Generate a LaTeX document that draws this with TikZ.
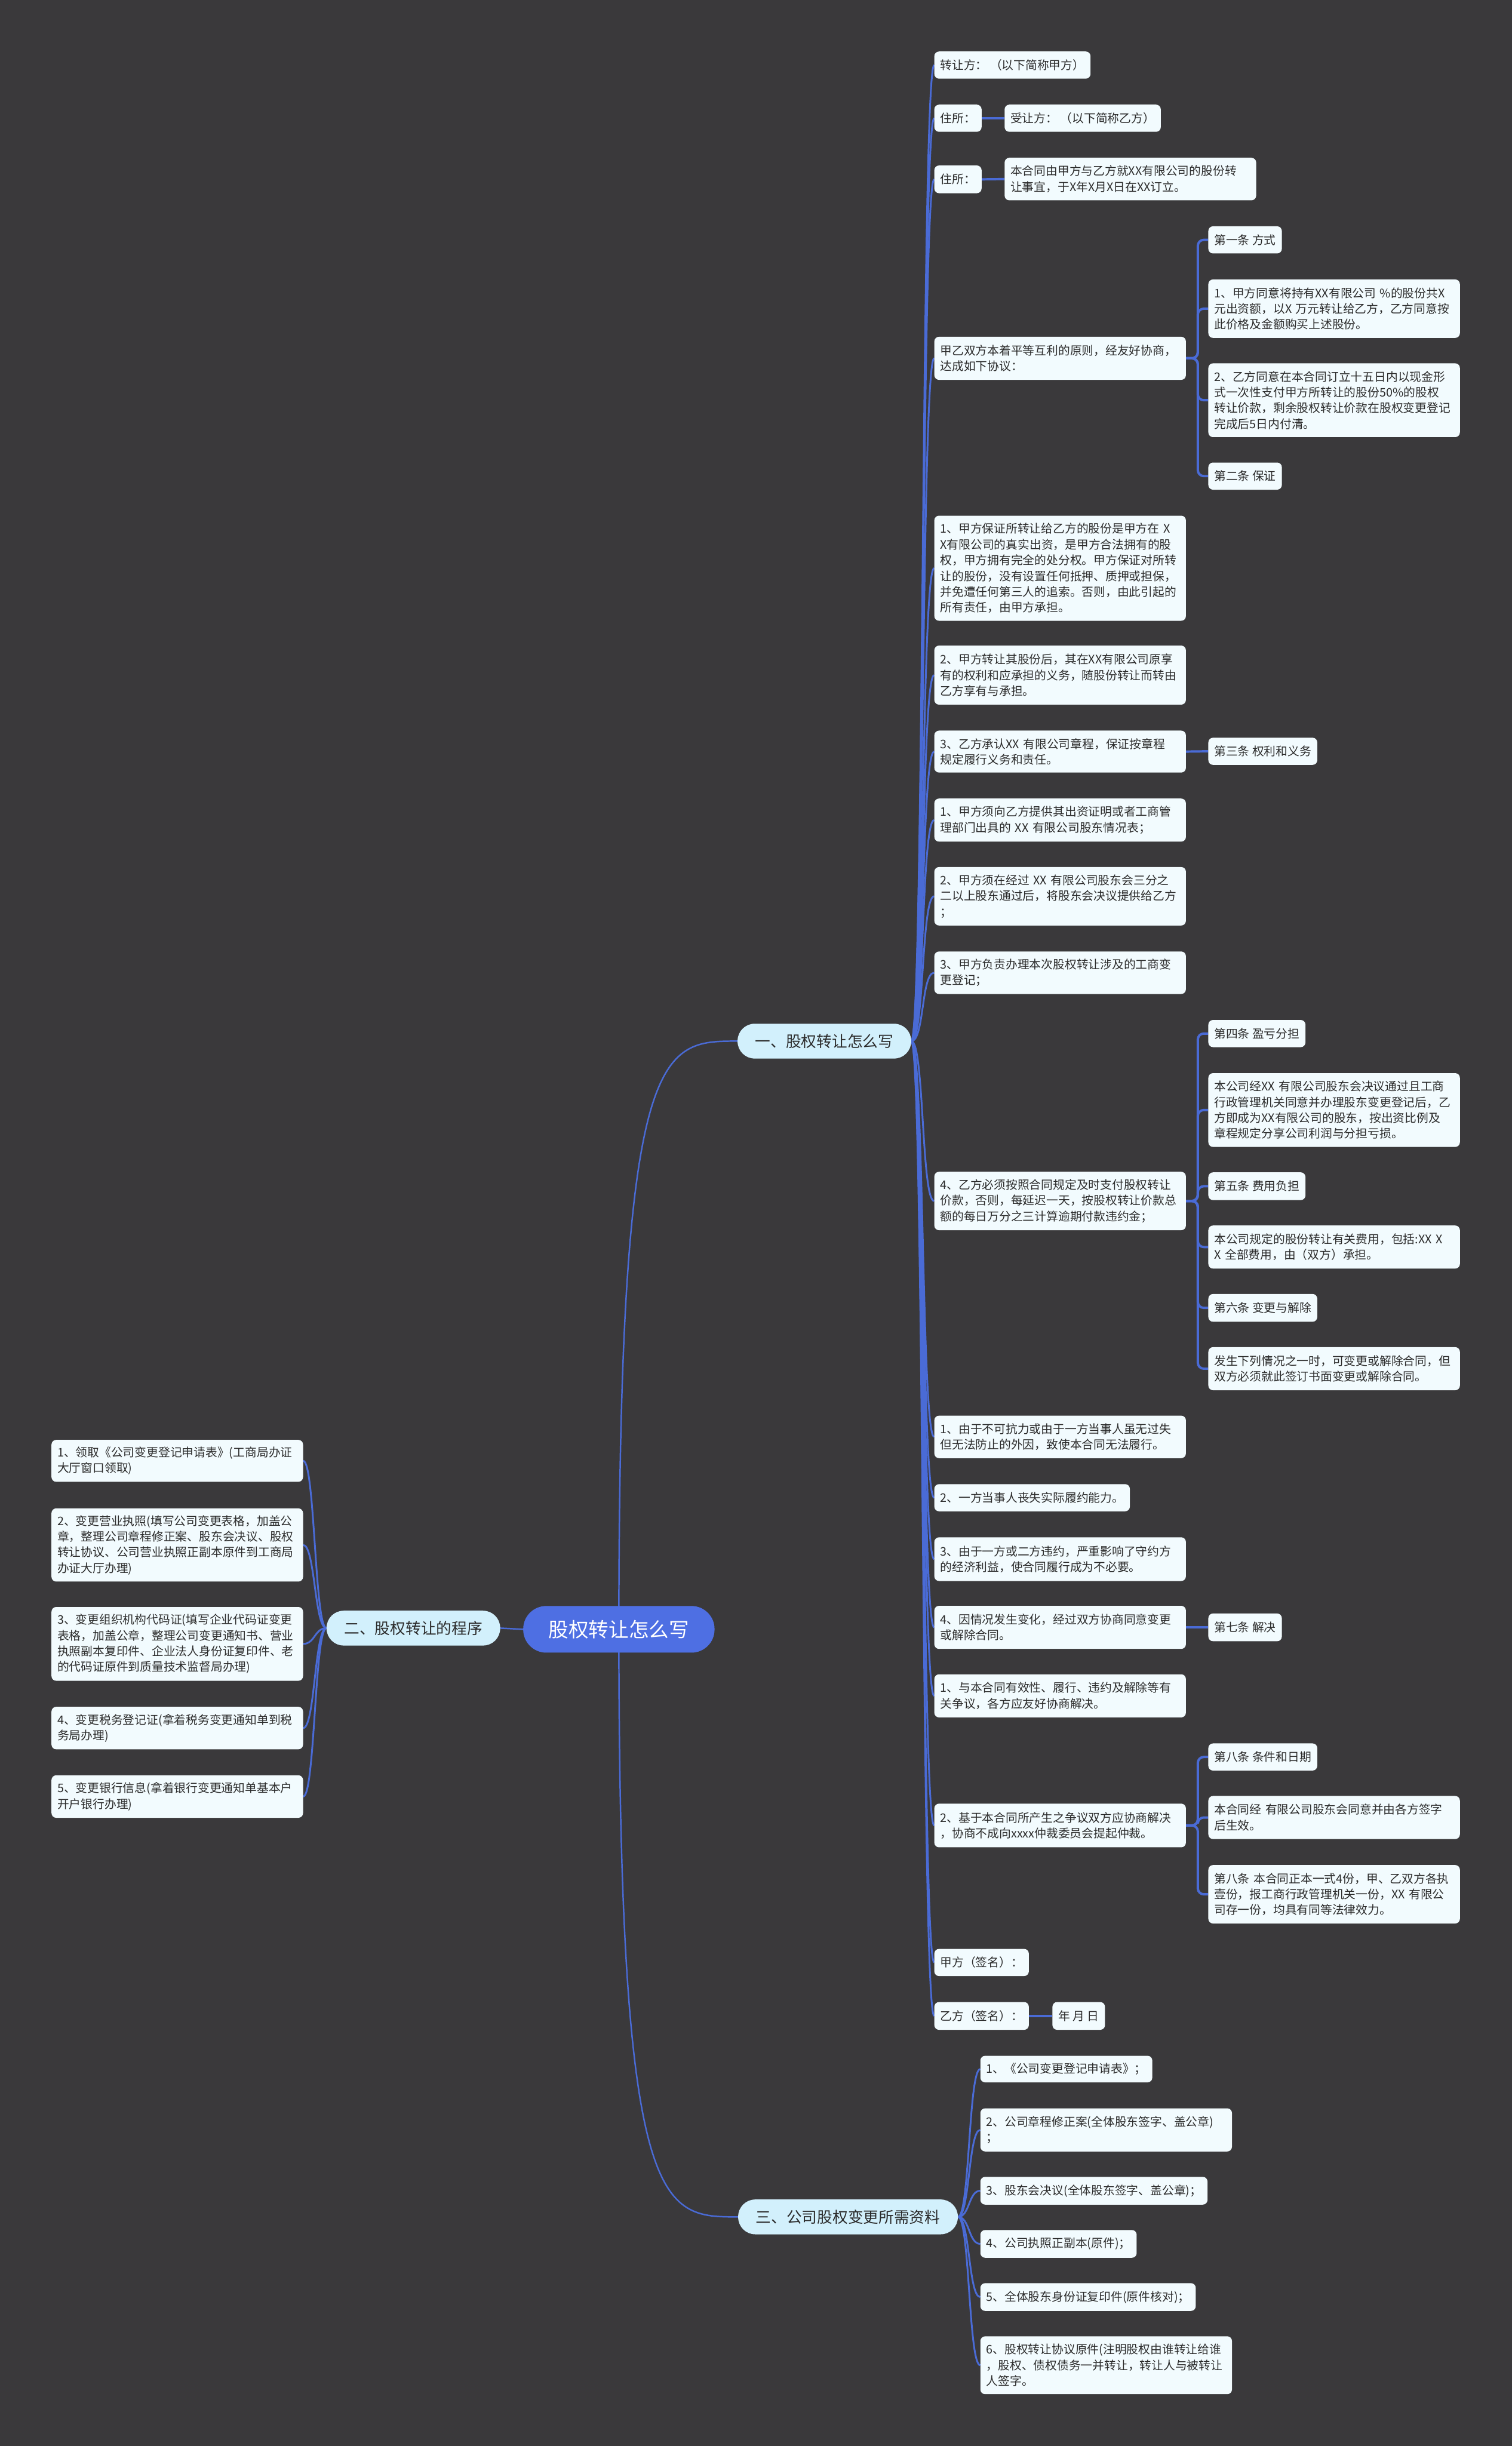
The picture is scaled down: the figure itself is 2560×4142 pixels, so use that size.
\documentclass[tikz,border=0pt]{standalone}
\usepackage{fontspec}
\setmainfont{Noto Sans CJK SC}
\pgfdeclarelayer{bg}
\pgfsetlayers{bg,main}
\definecolor{bgc}{HTML}{3A393B}
\definecolor{linec}{HTML}{4A6BD6}
\definecolor{leaff}{HTML}{F2FBFE}
\definecolor{lonef}{HTML}{D2F0FC}
\definecolor{rootf}{HTML}{4E6FE3}
\definecolor{txt}{HTML}{2B2B2B}
\tikzset{
 lf/.style={fill=leaff, rounded corners=8pt, anchor=north west, inner xsep=10pt, inner ysep=0pt,
   minimum height=#1, font=\fontsize{20}{26.7}\selectfont, text=txt, align=left},
 tw/.style={text width=406pt},
 lone/.style={fill=lonef, rounded corners=29pt, minimum height=59pt, inner xsep=30pt, inner ysep=0pt,
   font=\fontsize{26}{30}\selectfont, text=txt},
 rootbox/.style={fill=rootf, rounded corners=39pt, minimum height=79pt, minimum width=324pt, inner sep=0pt,
   font=\fontsize{34}{40}\selectfont, text=white},
 c0/.style={draw=linec, line width=2.5pt},
 c1/.style={draw=linec, line width=3pt},
 c2/.style={draw=linec, line width=4pt, rounded corners=10pt},
}
\begin{document}
\begin{tikzpicture}[x=1pt,y=-1pt]
\useasboundingbox (0,0) rectangle (2560,4142);
% root and level 1
\node[rootbox] (root) at (1048,2759) {股权转让怎么写};
\node[lone] (one) at (1396,1763) {一、股权转让怎么写};
\node[lone] (two) at (700,2757) {二、股权转让的程序};
\node[lone] (three) at (1436,3754) {三、公司股权变更所需资料};
% branch one
\node[lf=46] (n1) at (1582,87) {转让方： （以下简称甲方）};
\node[lf=46] (n2) at (1582,177) {住所：};
\node[lf=46] (n2a) at (1701,177) {受让方： （以下简称乙方）};
\node[lf=47] (n3) at (1582,280) {住所：};
\node[lf=72,tw] (n3a) at (1701,267) {本合同由甲方与乙方就XX有限公司的股份转\\让事宜，于X年X月X日在XX订立。};
\node[lf=73,tw] (n4) at (1582,570) {甲乙双方本着平等互利的原则，经友好协商，\\达成如下协议：};
\node[lf=46] (n4a) at (2046,383) {第一条 方式};
\node[lf=99,tw] (n4b) at (2046,473) {1、甲方同意将持有XX有限公司 \%的股份共X\\元出资额，以X 万元转让给乙方，乙方同意按\\此价格及金额购买上述股份。};
\node[lf=125,tw] (n4c) at (2046,615) {2、乙方同意在本合同订立十五日内以现金形\\式一次性支付甲方所转让的股份50\%的股权\\转让价款，剩余股权转让价款在股权变更登记\\完成后5日内付清。};
\node[lf=46] (n4d) at (2046,783) {第二条 保证};
\node[lf=178,tw] (n5) at (1582,873) {1、甲方保证所转让给乙方的股份是甲方在 X\\X有限公司的真实出资，是甲方合法拥有的股\\权，甲方拥有完全的处分权。甲方保证对所转\\让的股份，没有设置任何抵押、质押或担保，\\并免遭任何第三人的追索。否则，由此引起的\\所有责任，由甲方承担。};
\node[lf=100,tw] (n6) at (1582,1093) {2、甲方转让其股份后，其在XX有限公司原享\\有的权利和应承担的义务，随股份转让而转由\\乙方享有与承担。};
\node[lf=71,tw] (n7) at (1582,1237) {3、乙方承认XX 有限公司章程，保证按章程\\规定履行义务和责任。};
\node[lf=46] (n7a) at (2046,1249) {第三条 权利和义务};
\node[lf=73,tw] (n8) at (1582,1352) {1、甲方须向乙方提供其出资证明或者工商管\\理部门出具的 XX 有限公司股东情况表；};
\node[lf=99,tw] (n9) at (1582,1468) {2、甲方须在经过 XX 有限公司股东会三分之\\二以上股东通过后，将股东会决议提供给乙方\\；};
\node[lf=72,tw] (n10) at (1582,1611) {3、甲方负责办理本次股权转让涉及的工商变\\更登记；};
\node[lf=99,tw] (n11) at (1582,1984) {4、乙方必须按照合同规定及时支付股权转让\\价款，否则，每延迟一天，按股权转让价款总\\额的每日万分之三计算逾期付款违约金；};
\node[lf=46] (n11a) at (2046,1727) {第四条 盈亏分担};
\node[lf=125,tw] (n11b) at (2046,1817) {本公司经XX 有限公司股东会决议通过且工商\\行政管理机关同意并办理股东变更登记后，乙\\方即成为XX有限公司的股东，按出资比例及\\章程规定分享公司利润与分担亏损。};
\node[lf=47] (n11c) at (2046,1985) {第五条 费用负担};
\node[lf=73,tw] (n11d) at (2046,2075) {本公司规定的股份转让有关费用，包括:XX X\\X 全部费用，由（双方）承担。};
\node[lf=47] (n11e) at (2046,2191) {第六条 变更与解除};
\node[lf=73,tw] (n11f) at (2046,2281) {发生下列情况之一时，可变更或解除合同，但\\双方必须就此签订书面变更或解除合同。};
\node[lf=72,tw] (n12) at (1582,2397) {1、由于不可抗力或由于一方当事人虽无过失\\但无法防止的外因，致使本合同无法履行。};
\node[lf=46] (n13) at (1582,2513) {2、一方当事人丧失实际履约能力。};
\node[lf=74,tw] (n14) at (1582,2603) {3、由于一方或二方违约，严重影响了守约方\\的经济利益，使合同履行成为不必要。};
\node[lf=73,tw] (n15) at (1582,2719) {4、因情况发生变化，经过双方协商同意变更\\或解除合同。};
\node[lf=47] (n15a) at (2046,2732) {第七条 解决};
\node[lf=73,tw] (n16) at (1582,2835) {1、与本合同有效性、履行、违约及解除等有\\关争议，各方应友好协商解决。};
\node[lf=74,tw] (n17) at (1582,3054) {2、基于本合同所产生之争议双方应协商解决\\，协商不成向xxxx仲裁委员会提起仲裁。};
\node[lf=46] (n17a) at (2046,2952) {第八条 条件和日期};
\node[lf=73,tw] (n17b) at (2046,3041) {本合同经 有限公司股东会同意并由各方签字\\后生效。};
\node[lf=99,tw] (n17c) at (2046,3158) {第八条 本合同正本一式4份，甲、乙双方各执\\壹份，报工商行政管理机关一份，XX 有限公\\司存一份，均具有同等法律效力。};
\node[lf=46] (n18) at (1582,3300) {甲方（签名）：};
\node[lf=47] (n19) at (1582,3390) {乙方（签名）：};
\node[lf=47] (n19a) at (1782,3390) {年 月 日};
% branch three
\node[lf=45] (m1) at (1660,3481) {1、《公司变更登记申请表》；};
\node[lf=73,tw] (m2) at (1660,3570) {2、公司章程修正案(全体股东签字、盖公章)\\；};
\node[lf=47] (m3) at (1660,3686) {3、股东会决议(全体股东签字、盖公章)；};
\node[lf=47] (m4) at (1660,3776) {4、公司执照正副本(原件)；};
\node[lf=47] (m5) at (1660,3866) {5、全体股东身份证复印件(原件核对)；};
\node[lf=98,tw] (m6) at (1660,3956) {6、股权转让协议原件(注明股权由谁转让给谁\\，股权、债权债务一并转让，转让人与被转让\\人签字。};
% branch two
\node[lf=71,tw] (k1) at (87,2438) {1、领取《公司变更登记申请表》(工商局办证\\大厅窗口领取)};
\node[lf=124,tw] (k2) at (87,2554) {2、变更营业执照(填写公司变更表格，加盖公\\章，整理公司章程修正案、股东会决议、股权\\转让协议、公司营业执照正副本原件到工商局\\办证大厅办理)};
\node[lf=125,tw] (k3) at (87,2721) {3、变更组织机构代码证(填写企业代码证变更\\表格，加盖公章，整理公司变更通知书、营业\\执照副本复印件、企业法人身份证复印件、老\\的代码证原件到质量技术监督局办理)};
\node[lf=72,tw] (k4) at (87,2890) {4、变更税务登记证(拿着税务变更通知单到税\\务局办理)};
\node[lf=72,tw] (k5) at (87,3006) {5、变更银行信息(拿着银行变更通知单基本户\\开户银行办理)};
% connectors
\begin{pgfonlayer}{bg}
\fill[bgc] (0,0) rectangle (2560,4142);
\draw[c0] (root.center) .. controls (root.center |- one.west) and ([xshift=-130pt]one.west) .. (one.west);
\draw[c0] (root.center) .. controls (root.center |- three.west) and ([xshift=-130pt]three.west) .. (three.west);
\draw[c0] (root.west) -- (two.east);
\foreach \c in {n1,n2,n3,n4,n5,n6,n7,n8,n9,n10,n11,n12,n13,n14,n15,n16,n17,n18,n19}
  \draw[c1] (one.east) .. controls +(22,0) and +(-22,0) .. (\c.west);
\foreach \c in {m1,m2,m3,m4,m5,m6}
  \draw[c1] (three.east) .. controls +(20,0) and +(-20,0) .. (\c.west);
\foreach \c in {k1,k2,k3,k4,k5}
  \draw[c1] (two.west) .. controls +(-20,0) and +(20,0) .. (\c.east);
\foreach \c in {n4a,n4b,n4c,n4d}
  \draw[c2] (n4.east) -- ([xshift=20pt]n4.east) |- (\c.west);
\foreach \c in {n11a,n11b,n11c,n11d,n11e,n11f}
  \draw[c2] (n11.east) -- ([xshift=20pt]n11.east) |- (\c.west);
\foreach \c in {n17a,n17b,n17c}
  \draw[c2] (n17.east) -- ([xshift=20pt]n17.east) |- (\c.west);
\draw[c2] (n2.east) -- (n2a.west);
\draw[c2] (n3.east) -- (n3a.west);
\draw[c2] (n7.east) -- (n7a.west);
\draw[c2] (n15.east) -- (n15a.west);
\draw[c2] (n19.east) -- (n19a.west);
\end{pgfonlayer}
\end{tikzpicture}
\end{document}
